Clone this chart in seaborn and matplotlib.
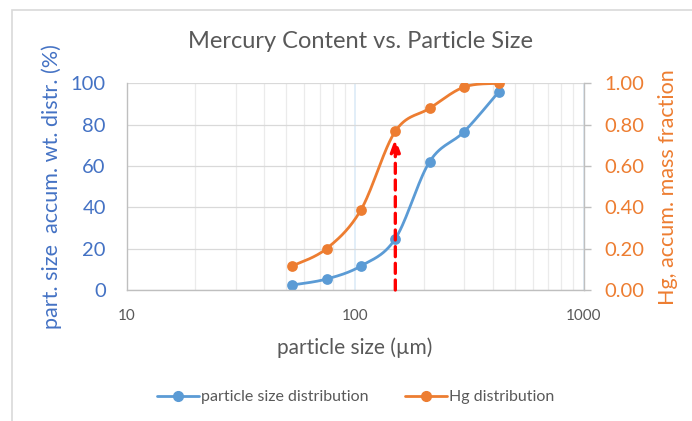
import numpy as np
import pandas as pd
import matplotlib
matplotlib.use("Agg")
import matplotlib.pyplot as plt
from matplotlib.lines import Line2D
from matplotlib.patches import Rectangle
import seaborn as sns

# ---- data ----
sizes_um = [53, 75, 106, 150, 212, 300, 425]
psd_pct = [2.4, 5.3, 11.6, 24.8, 62.1, 76.6, 95.8]
hg_frac = [0.116, 0.20, 0.387, 0.768, 0.879, 0.982, 1.0]
arrow_x = 150
arrow_top = 0.735
x_ticks = [10, 100, 1000]
left_ticks = [0, 20, 40, 60, 80, 100]
right_ticks = [0.0, 0.2, 0.4, 0.6, 0.8, 1.0]

BLUE = "#5B9BD5"
ORANGE = "#ED7D31"
AXBLUE = "#4472C4"
GRAY = "#595959"

sns.set_theme(style="white")
plt.rcParams["font.family"] = ["Lato", "DejaVu Sans"]

W, H = 692, 421
fig = plt.figure(figsize=(W / 100, H / 100), dpi=100)
L, R, T, B = 126.7, 583.5, 83.3, 290.0
ax = fig.add_axes([L / W, 1 - B / H, (R - L) / W, (B - T) / H])
ax2 = ax.twinx()

# outer frame
fig.patches.append(Rectangle((12 / W, -0.1), 1.2, 1 - 10 / H + 0.1, transform=fig.transFigure,
                             fill=False, edgecolor="#D9D9D9", linewidth=1.2))

pw, ph = R - L, B - T


def smooth(xs, ys, ymax):
    # Excel-style smoothing: cubic Bezier with Catmull-Rom control points in display space
    u = (np.log10(np.asarray(xs, float)) - 1) / 2 * pw
    v = np.asarray(ys, float) / ymax * ph
    P = np.column_stack([u, v])
    n = len(P)
    out = []
    t = np.linspace(0, 1, 30)[:, None]
    for i in range(n - 1):
        p0 = P[i - 1] if i > 0 else P[i]
        p1, p2 = P[i], P[i + 1]
        p3 = P[i + 2] if i + 2 < n else P[i + 1]
        c1 = p1 + (p2 - p0) / 6
        c2 = p2 - (p3 - p1) / 6
        seg = ((1 - t) ** 3) * p1 + 3 * ((1 - t) ** 2) * t * c1 + 3 * (1 - t) * t ** 2 * c2 + t ** 3 * p2
        out.append(seg if i == 0 else seg[1:])
    S = np.vstack(out)
    xs_s = 10 ** (S[:, 0] / pw * 2 + 1)
    ys_s = S[:, 1] / ph * ymax
    return xs_s, ys_s


for a in (ax, ax2):
    a.set_xscale("log")
    a.set_xlim(10, 1000)

ax.set_ylim(0, 100)
ax2.set_ylim(0, 1.0)

# gridlines
ax.set_axisbelow(True)
ax.xaxis.grid(True, which="minor", color="#EBEBEB", linewidth=0.9)
ax.xaxis.grid(True, which="major", color="#DDEBF7", linewidth=1.2)
ax.yaxis.grid(True, which="major", color="#D9D9D9", linewidth=0.9)

# PSD (left axis)
bx, by = smooth(sizes_um, psd_pct, 100)
sns.lineplot(x=bx, y=by, ax=ax, color=BLUE, linewidth=2.0, sort=False, estimator=None)
sns.scatterplot(x=sizes_um, y=psd_pct, ax=ax, color=BLUE, s=60, edgecolor=BLUE, linewidth=0, zorder=5)

# Hg (right axis)
ox, oy = smooth(sizes_um, hg_frac, 1.0)
sns.lineplot(x=ox, y=oy, ax=ax2, color=ORANGE, linewidth=2.0, sort=False, estimator=None)
sns.scatterplot(x=sizes_um, y=hg_frac, ax=ax2, color=ORANGE, s=60, edgecolor=ORANGE, linewidth=0, zorder=5)

# red dashed arrow
ax2.annotate("", xy=(arrow_x, arrow_top), xytext=(arrow_x, 0.0),
             arrowprops=dict(arrowstyle="-|>,head_width=0.22,head_length=0.6", color="#FF0000",
                             linewidth=2.4, linestyle=(0, (3, 2)), mutation_scale=13,
                             shrinkA=0, shrinkB=0),
             zorder=6)

# spines
for a in (ax, ax2):
    for s in a.spines.values():
        s.set_visible(False)
for side in ("left", "right", "bottom"):
    ax2.spines[side].set_visible(True)
    ax2.spines[side].set_color("#BFBFBF")
    ax2.spines[side].set_linewidth(1.0)

# ticks
ax.set_xticks(x_ticks)
ax.set_xticklabels([str(v) for v in x_ticks])
ax.tick_params(axis="x", which="both", length=0, labelsize=11, labelcolor=GRAY, pad=14)
ax.set_yticks(left_ticks)
ax.set_yticklabels([str(v) for v in left_ticks])
ax.tick_params(axis="y", length=0, labelsize=14.5, labelcolor=AXBLUE, pad=15)
ax2.set_yticks(right_ticks)
ax2.set_yticklabels([f"{v:.2f}" for v in right_ticks])
ax2.tick_params(axis="y", length=5, width=1, color="#BFBFBF", direction="out",
                labelsize=14.5, labelcolor=ORANGE, pad=10)
ax2.tick_params(axis="x", which="both", length=0, labelbottom=False)

ax.set_xlabel("particle size (\u00b5m)", fontsize=15, color=GRAY, labelpad=10)
ax.set_ylabel("part. size  accum. wt. distr. (%)", fontsize=15.5, color=AXBLUE, labelpad=6)
ax2.set_ylabel("Hg, accum. mass fraction", fontsize=15.5, color=ORANGE, labelpad=10)

fig.text(361 / W, 1 - 41 / H, "Mercury Content vs. Particle Size", ha="center", va="center",
         fontsize=17, color=GRAY)

handles = [Line2D([0], [0], color=BLUE, marker="o", markersize=7, linewidth=2),
           Line2D([0], [0], color=ORANGE, marker="o", markersize=7, linewidth=2)]
fig.legend(handles, ["particle size distribution", "Hg distribution"], loc="center",
           bbox_to_anchor=(356 / W, 1 - 397 / H), ncol=2, frameon=False, fontsize=11.5,
           labelcolor=GRAY, handlelength=2.6, handletextpad=0.15, columnspacing=2.3)

fig.savefig("out.png", dpi=100)
